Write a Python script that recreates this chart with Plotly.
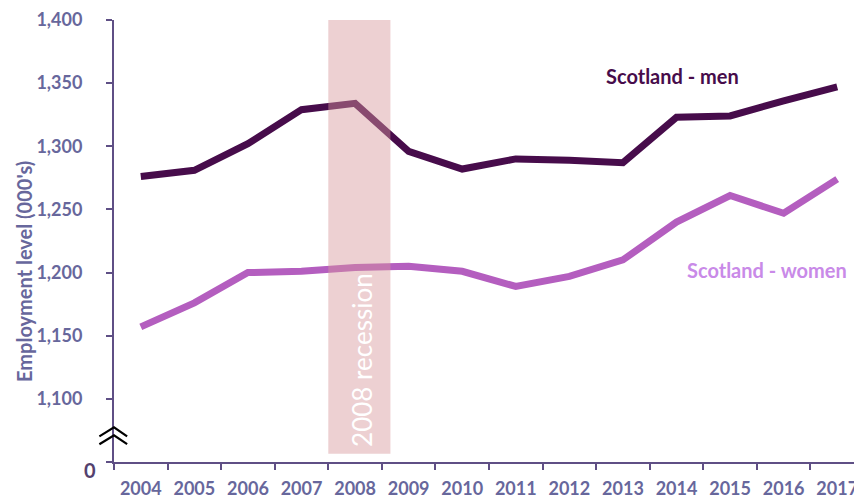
import plotly.graph_objects as go

years = ["2004", "2005", "2006", "2007", "2008", "2009", "2010",
         "2011", "2012", "2013", "2014", "2015", "2016", "2017"]
men = [1276, 1281, 1302, 1329, 1334, 1296, 1282, 1290, 1289, 1287, 1323, 1324, 1336, 1347]
women = [1157, 1176, 1200, 1201, 1204, 1205, 1201, 1189, 1197, 1210, 1240, 1261, 1247, 1274]
y_tickvals = [1050, 1100, 1150, 1200, 1250, 1300, 1350, 1400]
y_ticktext = ["", "1,100", "1,150", "1,200", "1,250", "1,300", "1,350", "1,400"]

FONT = "Lato"
LABEL_COL = "#67679c"
AXIS_COL = "#5f4f85"
MEN_COL = "#470c4b"
WOMEN_COL = "#b45ebf"

fig = go.Figure()
fig.add_trace(go.Scatter(x=years, y=men, mode="lines", name="Scotland - men",
                         line=dict(color=MEN_COL, width=7)))
fig.add_trace(go.Scatter(x=years, y=women, mode="lines", name="Scotland - women",
                         line=dict(color=WOMEN_COL, width=7)))

# recession band
fig.add_shape(type="rect", xref="x", yref="y", x0=3.5, x1=4.66, y0=1056.5, y1=1400,
              fillcolor="rgb(215,150,155)", opacity=0.45, line_width=0, layer="above")

fig.add_annotation(x=4.14, y=1130.5, xref="x", yref="y", text="2008 recession",
                   textangle=-90, showarrow=False,
                   font=dict(family=FONT, size=26, color="white"))

fig.add_annotation(x=9.92, y=1356, xref="x", yref="y", text="<b>Scotland - men</b>",
                   showarrow=False, font=dict(family=FONT, size=20, color=MEN_COL))
fig.add_annotation(x=11.68, y=1202, xref="x", yref="y", text="<b>Scotland - women</b>",
                   showarrow=False, font=dict(family=FONT, size=20, color="#c98ae8"))

# zero label on broken axis
fig.add_annotation(x=-0.032, y=-0.018, xref="paper", yref="paper", text="<b>0</b>",
                   showarrow=False, xanchor="center", yanchor="middle",
                   font=dict(family=FONT, size=20, color="#54416e"))

# y-axis title
fig.add_annotation(x=-0.12, y=0.43, xref="paper", yref="paper",
                   text="<b>Employment level (000's)</b>", textangle=-90, showarrow=False,
                   xanchor="center", yanchor="middle",
                   font=dict(family=FONT, size=20, color=LABEL_COL))

# axis break symbol
def chev(yb, yt):
    return f"M -0.0195,{yb} L 0,{yt} L 0.0175,{yb}"
for yb, yt in [(0.058, 0.0783), (0.0403, 0.0604)]:
    fig.add_shape(type="path", xref="paper", yref="paper", path=chev(yb, yt),
                  line=dict(color="black", width=2.2), layer="above")

fig.update_layout(
    width=856, height=491,
    margin=dict(l=106, r=0, t=8, b=36),
    plot_bgcolor="white", paper_bgcolor="white",
    showlegend=False,
    xaxis=dict(type="category", range=[-0.5, 13.5], showgrid=False,
               showline=True, linecolor=AXIS_COL, linewidth=2,
               ticks="outside", tickson="boundaries", ticklen=6, tickcolor=AXIS_COL, tickwidth=2,
               tickfont=dict(family=FONT, size=18, color=LABEL_COL, weight="bold"),
               ticklabelstandoff=9, ticklabeloverflow="allow"),
    yaxis=dict(range=[1050, 1400], showgrid=False, zeroline=False,
               showline=True, linecolor=AXIS_COL, linewidth=2,
               tickvals=y_tickvals, ticktext=y_ticktext,
               ticks="outside", ticklen=6, tickcolor=AXIS_COL, tickwidth=2,
               tickfont=dict(family=FONT, size=18, color=LABEL_COL, weight="bold"),
               ticklabelstandoff=20, ticklabeloverflow="allow"),
)

fig.write_html("out.html")
